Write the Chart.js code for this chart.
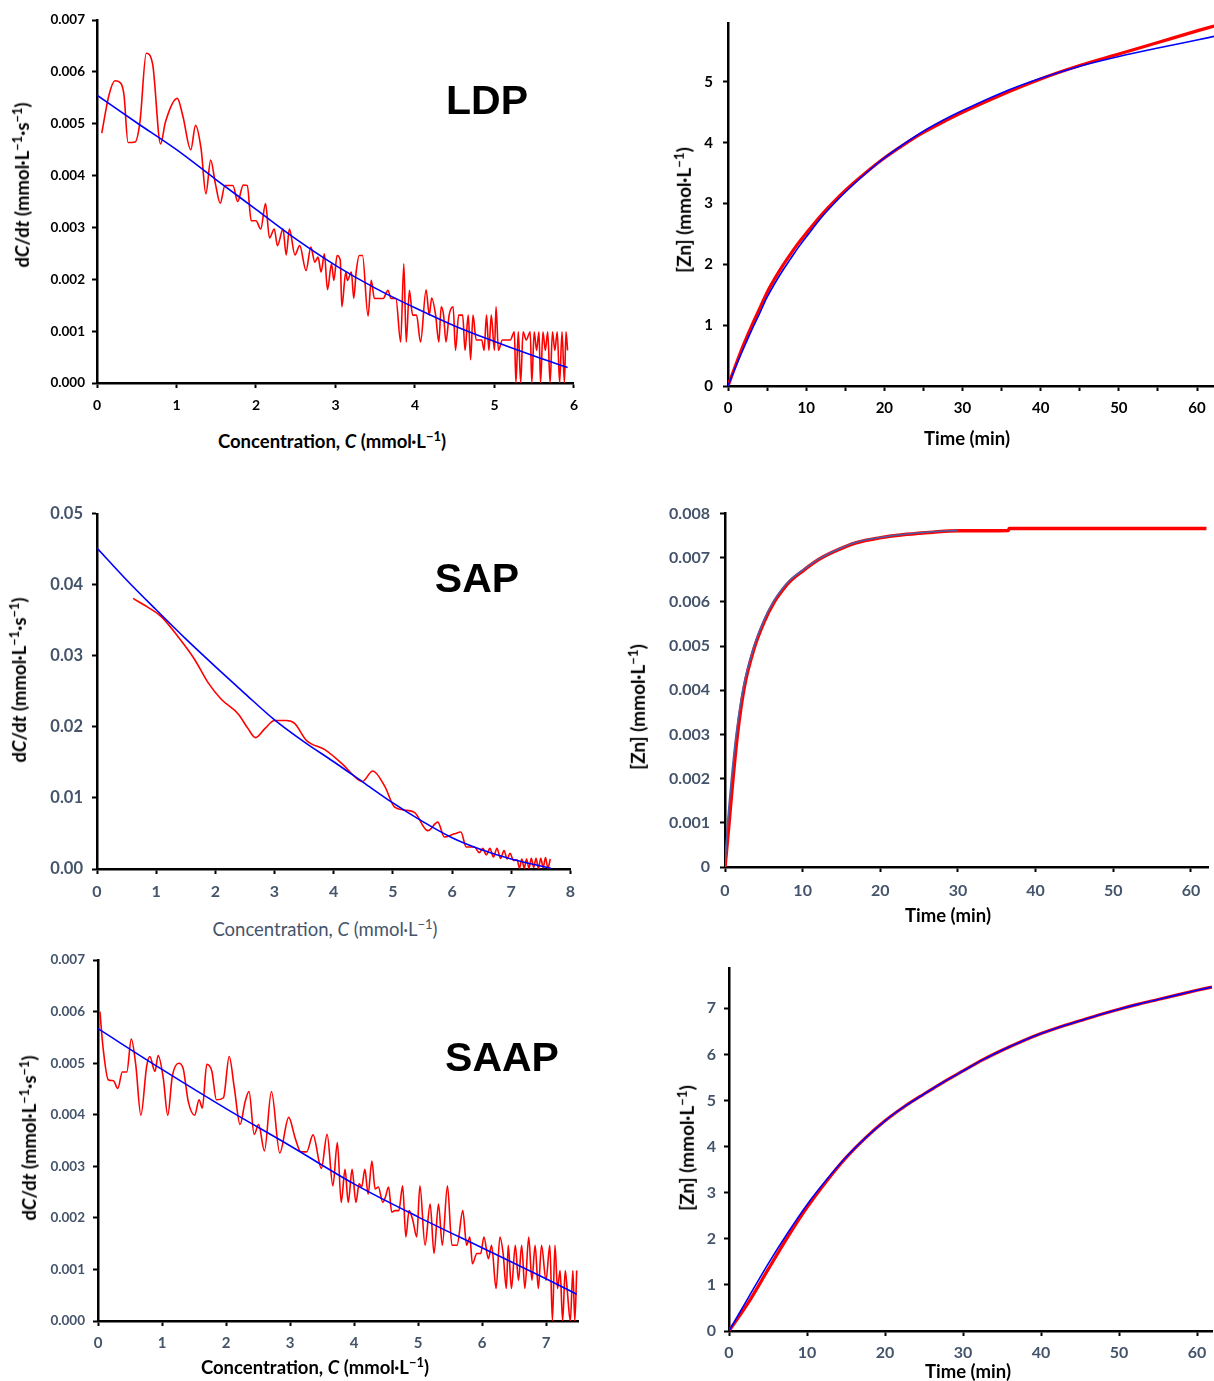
<!DOCTYPE html>
<html>
<head>
<meta charset="utf-8">
<script src="https://cdn.jsdelivr.net/npm/chart.js@4/dist/chart.umd.min.js"></script>
<style>
html,body{margin:0;padding:0;background:#fff;overflow:hidden;}
body{width:1214px;height:1381px;position:relative;}
.t{position:absolute;white-space:nowrap;transform:translate(-50%,-50%);font-family:Lato,"DejaVu Sans",sans-serif;font-weight:700;color:#000;}
.ty{transform:translate(-50%,-50%) rotate(-90deg);}
.lbl{position:absolute;white-space:nowrap;transform:translate(-50%,-50%);font-family:"Liberation Sans",Arial,sans-serif;font-weight:700;font-size:41px;color:#000;}
</style>
</head>
<body>
<script>
// ---------------- DATA ----------------
// Panel 1: LDP rate vs concentration
const ldpRateC = [0.06,0.15,0.226,0.30,0.34,0.39,0.48,0.54,0.62,0.70,0.80,0.86,1.01,1.08,1.18,1.24,1.31,1.37,1.43,1.49,1.55,1.61,1.71,1.77,1.84,1.89,1.94,2.00,2.06,2.12,2.17,2.23,2.27,2.34,2.38,2.42,2.49,2.55,2.63,2.69,2.74,2.78,2.82,2.86,2.90,2.95,2.98,3.02,3.06,3.08,3.13,3.15,3.20,3.23,3.26,3.30,3.34,3.41,3.45,3.49,3.60,3.66,3.70,3.76,3.82,3.86,3.89,3.93,3.97,4.02,4.07,4.14,4.18,4.21,4.26,4.30,4.33,4.36,4.39,4.43,4.48,4.51,4.55,4.60,4.63,4.67,4.70,4.73,4.77,4.84,4.87,4.90,4.93,4.96,5.00,5.02,5.05,5.10,5.20,5.25,5.27,5.30,5.33,5.36,5.40,5.45,5.47,5.50,5.53,5.56,5.58,5.61,5.64,5.67,5.70,5.73,5.76,5.79,5.82,5.85,5.88,5.90,5.92];
const ldpRateRed = [0.00482,0.00555,0.00583,0.00578,0.00555,0.00464,0.00465,0.00503,0.00636,0.00615,0.00461,0.00503,0.00549,0.00515,0.00450,0.00497,0.00451,0.00365,0.00430,0.00384,0.00347,0.00381,0.00381,0.00350,0.00382,0.00381,0.00313,0.00313,0.00297,0.00346,0.00280,0.00297,0.00265,0.00297,0.00247,0.00297,0.00247,0.00265,0.00217,0.00262,0.00233,0.00243,0.00214,0.00249,0.00180,0.00230,0.00198,0.00246,0.00237,0.00147,0.00214,0.00198,0.00214,0.00163,0.00214,0.00246,0.00246,0.00129,0.00198,0.00163,0.00163,0.00179,0.00163,0.00163,0.00079,0.00230,0.00079,0.00179,0.00131,0.00131,0.00079,0.00180,0.00131,0.00164,0.00131,0.00079,0.00147,0.00131,0.00079,0.00131,0.00147,0.00063,0.00131,0.00131,0.00063,0.00131,0.00045,0.00131,0.00083,0.00083,0.00063,0.00131,0.00063,0.00131,0.00063,0.00147,0.00063,0.00083,0.00083,0.00099,0,0.00099,0,0.00099,0.00083,0.00099,0,0.00099,0.00063,0.00099,0,0.00099,0.00063,0.00099,0,0.00099,0.00063,0.00099,0,0.00099,0,0.00099,0.00063];
const ldpFitC = [0,0.5,1,1.5,2,2.5,3,3.5,4,4.5,5,5.5,5.92];
const ldpFitRate = [0.00555,0.00502,0.00450,0.00392,0.00335,0.00278,0.00227,0.00183,0.00145,0.00110,0.00080,0.00052,0.00030];

// Panel 2: LDP [Zn] vs time
const ldpT = [0,1,2,3,4,5,6,7,8,9,10,12,14,16,18,20,22.5,25,27.5,30,35,40,45,50,55,60,62.2];
const ldpZnRed = [0,0.35,0.68,0.98,1.26,1.54,1.77,1.98,2.17,2.35,2.51,2.82,3.09,3.33,3.55,3.75,3.97,4.17,4.34,4.50,4.79,5.05,5.27,5.46,5.65,5.84,5.92];
const ldpZnFit = [0,0.32,0.62,0.91,1.18,1.46,1.69,1.90,2.09,2.28,2.45,2.78,3.06,3.31,3.54,3.75,3.98,4.19,4.37,4.53,4.82,5.06,5.26,5.42,5.56,5.69,5.75];

// Panel 3: SAP rate vs concentration
const sapRateC = [0.61,0.85,1.09,1.37,1.65,1.88,2.10,2.39,2.55,2.68,2.84,3.00,3.20,3.34,3.54,3.85,4.13,4.41,4.48,4.66,4.86,5.03,5.20,5.37,5.59,5.76,5.87,6.04,6.15,6.24,6.38,6.46,6.52,6.58,6.64,6.70,6.76,6.82,6.88,6.93,6.98,7.04,7.10,7.14,7.18,7.22,7.26,7.30,7.34,7.38,7.42,7.46,7.50,7.54,7.58,7.62,7.66];
const sapRateRed = [0.0381,0.0369,0.0355,0.0327,0.0295,0.0262,0.0239,0.0218,0.0198,0.0185,0.0198,0.0209,0.0209,0.0205,0.0181,0.0168,0.0149,0.0126,0.0123,0.0138,0.0117,0.0087,0.0083,0.00795,0.0054,0.0066,0.0045,0.00495,0.0052,0.0031,0.0031,0.0023,0.0029,0.0020,0.0029,0.0017,0.0029,0.0015,0.0026,0.0014,0.0022,0.0012,0.0013,0.0001,0.0014,0.0001,0.0014,0.0001,0.0015,0.0002,0.0015,0.0001,0.0015,0.0002,0.0016,0.0001,0.0014];
const sapFitC = [0,0.5,1,1.5,2,2.5,3,3.5,4,4.5,5,5.5,6,6.5,7,7.67];
const sapFitRate = [0.0452,0.0407,0.0365,0.0324,0.0285,0.0247,0.0210,0.0179,0.0151,0.0122,0.0093,0.0067,0.0044,0.0027,0.0014,0.0001];

// Panel 4: SAP [Zn] vs time
const sapTRed = [0,0.5,0.95,1.6,2.46,3.75,5.04,6.34,7.2,8.28,10,12.16,14.3,16.9,19.9,23.4,26.8,30,36.5,36.6,62];
const sapZnRed = [0,0.00095,0.00185,0.0030,0.00405,0.00495,0.00555,0.0060,0.00622,0.00645,0.0067,0.00697,0.00716,0.00734,0.00745,0.00753,0.00758,0.00761,0.00762,0.00766,0.00766];
const sapTFit = [0,0.3,0.8,1.5,2.4,3.75,5.04,6.34,7.2,8.28,10,12.16,14.3,16.9,19.9,23.4,26.8,30];
const sapZnFit = [0,0.0009,0.00195,0.0031,0.0041,0.0050,0.0056,0.00604,0.00626,0.00648,0.00672,0.00698,0.00717,0.00735,0.00746,0.00754,0.00759,0.00762];

// Panel 5: SAAP rate vs concentration
const saapRateC = [0.03,0.08,0.16,0.24,0.31,0.38,0.45,0.52,0.59,0.67,0.76,0.81,0.89,0.94,1.02,1.09,1.16,1.26,1.33,1.41,1.51,1.58,1.63,1.70,1.78,1.85,1.96,2.05,2.13,2.22,2.30,2.36,2.44,2.51,2.60,2.71,2.84,2.98,3.08,3.17,3.26,3.36,3.49,3.58,3.67,3.74,3.80,3.86,3.91,3.97,4.03,4.08,4.12,4.17,4.22,4.28,4.33,4.38,4.45,4.49,4.54,4.59,4.64,4.70,4.76,4.81,4.86,4.92,4.98,5.03,5.11,5.19,5.25,5.32,5.38,5.46,5.53,5.61,5.70,5.76,5.81,5.85,5.92,5.98,6.03,6.10,6.15,6.22,6.28,6.33,6.38,6.41,6.46,6.52,6.57,6.62,6.67,6.73,6.78,6.83,6.88,6.93,7.00,7.06,7.10,7.14,7.18,7.22,7.26,7.30,7.33,7.38,7.42,7.45,7.48];
const saapRateRed = [0.00600,0.00529,0.00468,0.00466,0.00451,0.00483,0.00483,0.00547,0.00497,0.00399,0.00494,0.00513,0.00484,0.00515,0.00471,0.00399,0.00474,0.00500,0.00490,0.00426,0.00399,0.00429,0.00413,0.00498,0.00484,0.00429,0.00433,0.00513,0.00452,0.00381,0.00426,0.00445,0.00362,0.00381,0.00330,0.00445,0.00326,0.00395,0.00355,0.00328,0.00328,0.00361,0.00296,0.00362,0.00262,0.00346,0.00230,0.00294,0.00230,0.00294,0.00230,0.00266,0.00260,0.00294,0.00246,0.00310,0.00256,0.00260,0.00230,0.00240,0.00260,0.00211,0.00214,0.00214,0.00262,0.00163,0.00214,0.00195,0.00163,0.00262,0.00147,0.00227,0.00131,0.00227,0.00147,0.00262,0.00147,0.00147,0.00214,0.00147,0.00163,0.00111,0.00131,0.00131,0.00163,0.00121,0.00147,0.00063,0.00163,0.00131,0.00063,0.00147,0.00063,0.00147,0.00079,0.00147,0.00063,0.00163,0.00079,0.00147,0.00063,0.00147,0.00079,0.00147,0,0.00147,0.00063,0.00098,0,0.00098,0.00063,0,0.00098,0,0.00098];
const saapFitC = [0,1,2,3,4,5,6,7,7.48];
const saapFitRate = [0.00567,0.00488,0.00412,0.00340,0.00266,0.00202,0.00142,0.00082,0.00052];

// Panel 6: SAAP [Zn] vs time
const saapT = [0,2.5,5,7.5,10,12.5,15,17.5,20,22.5,25,27.5,30,32.5,35,37.5,40,42.5,45,47.5,50,52.5,55,57.5,60,61.9];
const saapZnRed = [0,0.62,1.33,2.03,2.68,3.25,3.76,4.19,4.56,4.87,5.14,5.40,5.64,5.88,6.09,6.28,6.45,6.60,6.73,6.86,6.98,7.09,7.19,7.29,7.39,7.46];
const saapZnFit = [0,0.73,1.45,2.12,2.74,3.28,3.77,4.19,4.56,4.87,5.14,5.40,5.64,5.88,6.09,6.28,6.45,6.60,6.73,6.86,6.98,7.09,7.19,7.29,7.39,7.46];

// Tick values
const ticksC6 = [0,1,2,3,4,5,6];
const ticksC8 = [0,1,2,3,4,5,6,7,8];
const ticksC7 = [0,1,2,3,4,5,6,7];
const ticksTime5 = [0,5,10,15,20,25,30,35,40,45,50,55,60];
const ticksTime10 = [0,10,20,30,40,50,60];
const ticksRate7 = [0,0.001,0.002,0.003,0.004,0.005,0.006,0.007];
const ticksRate5 = [0,0.01,0.02,0.03,0.04,0.05];
const ticksZn8 = [0,0.001,0.002,0.003,0.004,0.005,0.006,0.007,0.008];
const ticksZnLDP = [0,1,2,3,4,5];
const ticksZnSAAP = [0,1,2,3,4,5,6,7];

// ---------------- RENDERING ----------------
const FONT = 'Lato, "DejaVu Sans", sans-serif';
const GRAY = '#44546A';
function pts(xs, ys){ return xs.map((x,i)=>({x:x,y:ys[i]})); }
function ds(xs, ys, color, width){
  return {data:pts(xs,ys), borderColor:color, borderWidth:width, pointRadius:0, tension:0.4, cubicInterpolationMode:'monotone', fill:false};
}

function makePanel(p){
  const yW = 80, topPad = 14, xH = 42;
  const rightPad = Math.max(0, Math.min(12, 1214 - p.R));
  const w = yW + (p.R - p.L) + rightPad, h = topPad + (p.B - p.T) + xH;
  const c = document.createElement('canvas');
  c.width = w; c.height = h;
  c.style.cssText = `position:absolute;left:${p.L-yW}px;top:${p.T-topPad}px;width:${w}px;height:${h}px;`;
  document.body.appendChild(c);
  const grid = {display:true, drawOnChartArea:false, drawTicks:true, tickLength:5, tickWidth:2, tickColor:'#000'};
  new Chart(c, {
    type:'line',
    data:{datasets:p.datasets},
    options:{
      responsive:false, animation:false, events:[],
      layout:{autoPadding:false, padding:{top:topPad, right:rightPad, left:0, bottom:0}},
      plugins:{legend:{display:false}, tooltip:{enabled:false}},
      scales:{
        x:{type:'linear', min:p.xMin, max:p.xMax,
           afterBuildTicks:s=>{ s.ticks = p.xTicks.map(v=>({value:v})); },
           afterFit:s=>{ s.height = xH; },
           ticks:{color:p.tickColor, font:{family:FONT, size:p.xFont, weight:'bold'}, padding:p.xPad, maxRotation:0, autoSkip:false,
                  callback:p.xFmt},
           grid:grid, border:{display:true, color:'#000', width:2.5}},
        y:{type:'linear', min:p.yMin, max:p.yMax,
           afterBuildTicks:s=>{ s.ticks = p.yTicks.map(v=>({value:v})); },
           afterFit:s=>{ s.width = yW; },
           ticks:{color:p.tickColor, font:{family:FONT, size:p.yFont, weight:'bold'}, padding:p.yPad, autoSkip:false,
                  callback:p.yFmt},
           grid:grid, border:{display:true, color:'#000', width:2.5}}
      }
    }
  });
}
function text(html, x, y, size, opts){
  opts = opts || {};
  const d = document.createElement('div');
  d.className = 't' + (opts.rot ? ' ty' : '');
  d.style.left = x + 'px'; d.style.top = y + 'px'; d.style.fontSize = size + 'px';
  if (opts.color) d.style.color = opts.color;
  if (opts.weight) d.style.fontWeight = opts.weight;
  d.innerHTML = html;
  document.body.appendChild(d);
}
function label(s, x, y){
  const d = document.createElement('div');
  d.className = 'lbl'; d.style.left = x + 'px'; d.style.top = y + 'px'; d.textContent = s;
  document.body.appendChild(d);
}
const intFmt = v => String(v);
const tenFmt = v => (v % 10 === 0 ? String(v) : '');

// Panel 1
makePanel({L:97,R:575,T:19,B:383, xMin:0,xMax:6,xTicks:ticksC6,xFmt:intFmt, yMin:0,yMax:0.007,yTicks:ticksRate7,yFmt:v=>v.toFixed(3),
  tickColor:'#000', xFont:14, yFont:13.5, xPad:9, yPad:7,
  datasets:[ds(ldpFitC,ldpFitRate,'#0000ff',1.6), ds(ldpRateC,ldpRateRed,'#ff0000',1.6)]});
// Panel 2
makePanel({L:728,R:1214,T:18,B:386, xMin:0,xMax:62.17,xTicks:ticksTime5,xFmt:tenFmt, yMin:0,yMax:5.97,yTicks:ticksZnLDP,yFmt:intFmt,
  tickColor:'#000', xFont:15, yFont:15, xPad:8, yPad:10,
  datasets:[ds(ldpT,ldpZnFit,'#0000ff',1.6), ds(ldpT,ldpZnRed,'#ff0000',3.2)]});
// Panel 3
makePanel({L:97,R:571,T:509,B:869, xMin:0,xMax:8,xTicks:ticksC8,xFmt:intFmt, yMin:0,yMax:0.05,yTicks:ticksRate5,yFmt:v=>v.toFixed(2),
  tickColor:GRAY, xFont:16, yFont:16.5, xPad:8, yPad:9,
  datasets:[ds(sapFitC,sapFitRate,'#0000ff',1.6), ds(sapRateC,sapRateRed,'#ff0000',1.6)]});
// Panel 4
makePanel({L:725,R:1208,T:508,B:867, xMin:0,xMax:62.2,xTicks:ticksTime10,xFmt:intFmt, yMin:0,yMax:0.008,yTicks:ticksZn8,yFmt:v=>(v===0?'0':v.toFixed(3)),
  tickColor:GRAY, xFont:16, yFont:16, xPad:9, yPad:10,
  datasets:[ds(sapTFit,sapZnFit,'#4a5fa8',1.6), ds(sapTRed,sapZnRed,'#ff0000',3.5)]});
// Panel 5
makePanel({L:98,R:578,T:958,B:1321, xMin:0,xMax:7.5,xTicks:ticksC7,xFmt:intFmt, yMin:0,yMax:0.007,yTicks:ticksRate7,yFmt:v=>v.toFixed(3),
  tickColor:GRAY, xFont:15, yFont:13.5, xPad:8, yPad:8,
  datasets:[ds(saapFitC,saapFitRate,'#0000ff',1.6), ds(saapRateC,saapRateRed,'#ff0000',1.6)]});
// Panel 6
makePanel({L:729,R:1212,T:965,B:1331, xMin:0,xMax:61.92,xTicks:ticksTime10,xFmt:intFmt, yMin:0,yMax:7.86,yTicks:ticksZnSAAP,yFmt:intFmt,
  tickColor:GRAY, xFont:16, yFont:16, xPad:7, yPad:8,
  datasets:[ds(saapT,saapZnFit,'#0000ff',1.6), ds(saapT,saapZnRed,'#ff0000',3.2)]});

// Axis titles
const rateTitle = 'd<i>C</i>/d<i>t</i> (mmol·L<sup style="font-size:0.7em">−1</sup>·s<sup style="font-size:0.7em">−1</sup>)';
const concTitle = 'Concentration, <i>C</i> (mmol·L<sup style="font-size:0.7em">−1</sup>)';
const znTitle = '[Zn] (mmol·L<sup style="font-size:0.7em">−1</sup>)';
text(rateTitle, 21, 185, 18.5, {rot:true});
text(concTitle, 332, 440, 18.5);
text(znTitle, 683, 210, 19, {rot:true});
text('Time (min)', 967, 438, 18.5);
text(rateTitle, 18, 680, 18.5, {rot:true});
text(concTitle, 325, 928, 18.5, {color:GRAY, weight:400});
text(znTitle, 637, 707, 19, {rot:true});
text('Time (min)', 948, 915, 18.5);
text(rateTitle, 28, 1138, 18.5, {rot:true});
text(concTitle, 315, 1366, 18.5);
text(znTitle, 686, 1148, 19, {rot:true});
text('Time (min)', 968, 1371, 18.5);
label('LDP', 487, 100);
label('SAP', 477, 578);
label('SAAP', 502, 1057);
</script>
</body>
</html>
